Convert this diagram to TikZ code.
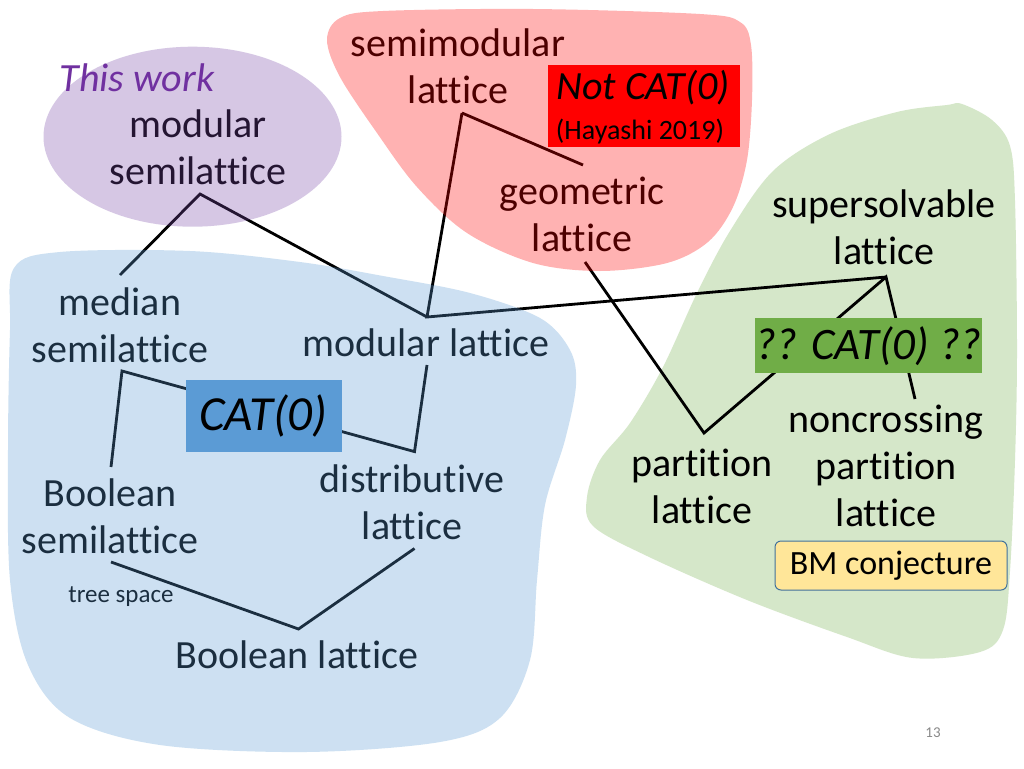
\documentclass[tikz,border=0pt]{standalone}
\usepackage{fontspec}
\setmainfont{Carlito}[Ligatures={NoCommon}]
\definecolor{bluefill}{RGB}{91,155,213}
\definecolor{redfill}{RGB}{255,0,0}
\definecolor{purplefill}{RGB}{120,72,168}
\definecolor{greenbg}{RGB}{213,231,201}
\definecolor{greenbox}{RGB}{112,173,71}
\definecolor{catbox}{RGB}{91,155,213}
\definecolor{bmfill}{RGB}{255,230,153}
\definecolor{bmdraw}{RGB}{65,113,156}
\definecolor{thiswork}{RGB}{112,48,160}
\definecolor{pagegray}{RGB}{137,137,137}
\begin{document}
\begin{tikzpicture}[x=1pt,y=-1pt,
  lbl/.style={align=center, inner sep=0pt, font=\fontsize{40}{47}\selectfont},
  edge/.style={line width=2.8pt, black},
  tint/.style={fill opacity=0.3, draw=none}]
\fill[white] (0,0) rectangle (1024,768);
\useasboundingbox (0,0) rectangle (1024,768);
% green region (behind)
\fill[greenbg] plot[smooth cycle, tension=0.55] coordinates {(962,104) (992,120) (1010,146) (1015,201) (1017,349) (1015,460) (1010,571) (1003,630) (980,652) (913,658) (847,637) (747,600) (647,556) (593,526) (587,497) (600,460) (630,423) (663,367) (697,293) (730,231) (773,171) (830,134) (897,112) (947,105)};
% text nodes
\node[lbl] (modsemi) at (198,147) {modular\\semilattice};
\node[lbl] (semimod) at (458,66) {semimodular\\lattice};
\node[lbl] (geom) at (582,214) {geometric\\lattice};
\node[lbl] (supersolv) at (884,227) {supersolvable\\lattice};
\node[lbl] (median) at (120,325) {median\\semilattice};
\node[lbl] (modlat) at (426,343) {modular lattice};
\node[lbl] (distr) at (412,502) {distributive\\lattice};
\node[lbl] (boolsemi) at (110,516) {Boolean\\semilattice};
\node[inner sep=0pt, font=\fontsize{25}{30}\selectfont] (treespace) at (121,597) {tree space};
\node[lbl] (boollat) at (297,655) {Boolean lattice};
\node[lbl] (noncross) at (886,466) {noncrossing\\partition\\lattice};
\node[lbl] (partition) at (702,486) {partition\\lattice};
\node[inner sep=0pt, text=pagegray, font=\fontsize{15}{18}\selectfont] (pagenum) at (933,733) {13};
% connector end points
\coordinate (msB) at (200,194);
\coordinate (medT) at (120,275);
\coordinate (mlT) at (427,317);
\coordinate (smB) at (462,113);
\coordinate (geT) at (583,165);
\coordinate (geB) at (585,262);
\coordinate (paT) at (704,433);
\coordinate (ssB) at (886,277);
\coordinate (ncT) at (915,399);
\coordinate (medB) at (122,371);
\coordinate (bsT) at (111,467);
\coordinate (diT) at (414.5,451.6);
\coordinate (mlB) at (427,365);
\coordinate (bsB) at (111,562);
\coordinate (blT) at (298.5,629);
\coordinate (diB) at (414.5,548.5);
% connectors
\draw[edge] (medT) -- (msB) -- (mlT);
\draw[edge] (smB) -- (mlT) -- (ssB);
\draw[edge] (smB) -- (geT);
\draw[edge] (geB) -- (paT) -- (ssB) -- (ncT);
\draw[edge] (bsT) -- (medB) -- (diT) -- (mlB);
\draw[edge] (bsB) -- (blT) -- (diB);
% tinted regions (over text)
\fill[bluefill, tint] plot[smooth cycle, tension=0.55] coordinates {(14,268) (60,252) (190,251) (300,262) (383,276) (470,293) (540,318) (570,350) (576,385) (565,440) (545,505) (537,580) (530,660) (500,718) (440,742) (306,752) (160,745) (70,718) (28,665) (10,580) (8,450) (10,330)};
\fill[redfill, tint] plot[smooth cycle, tension=0.55] coordinates {(327,40) (340,18) (383,11) (533,9) (700,14) (740,22) (751,45) (752,100) (747,160) (733,207) (708,242) (667,263) (600,271) (533,263) (467,233) (417,187) (377,133) (340,77)};
\fill[purplefill, tint] (192.5,136.7) ellipse [x radius=149pt, y radius=90pt];
% boxes on top
\node[fill=catbox, minimum width=156pt, minimum height=72pt, inner sep=0pt, font=\fontsize{49}{49}\selectfont\itshape] (cat) at (263.5,416) {CAT(0)};
\node[fill=greenbox, minimum width=227pt, minimum height=54.5pt, inner sep=0pt, font=\fontsize{45}{45}\selectfont\itshape] (qcat) at (868.5,345.7) {?? CAT(0) ??};
\node[fill=redfill, minimum width=192pt, minimum height=82pt, inner sep=0pt] (notbox) at (644,106) {};
\node[inner sep=0pt, font=\fontsize{40}{40}\selectfont\itshape] (nottxt) at (643,88) {Not CAT(0)};
\node[inner sep=0pt, font=\fontsize{28}{28}\selectfont] (haytxt) at (640,132) {(Hayashi 2019)};
\node[rounded corners=6pt, fill=bmfill, draw=bmdraw, line width=1pt, minimum width=232pt, minimum height=49pt, inner sep=0pt, font=\fontsize{34}{34}\selectfont] (bm) at (891,565.5) {BM conjecture};
\node[inner sep=0pt, text=thiswork, font=\fontsize{40}{40}\selectfont\itshape] (thiswork) at (137,78) {This work};
\end{tikzpicture}
\end{document}
